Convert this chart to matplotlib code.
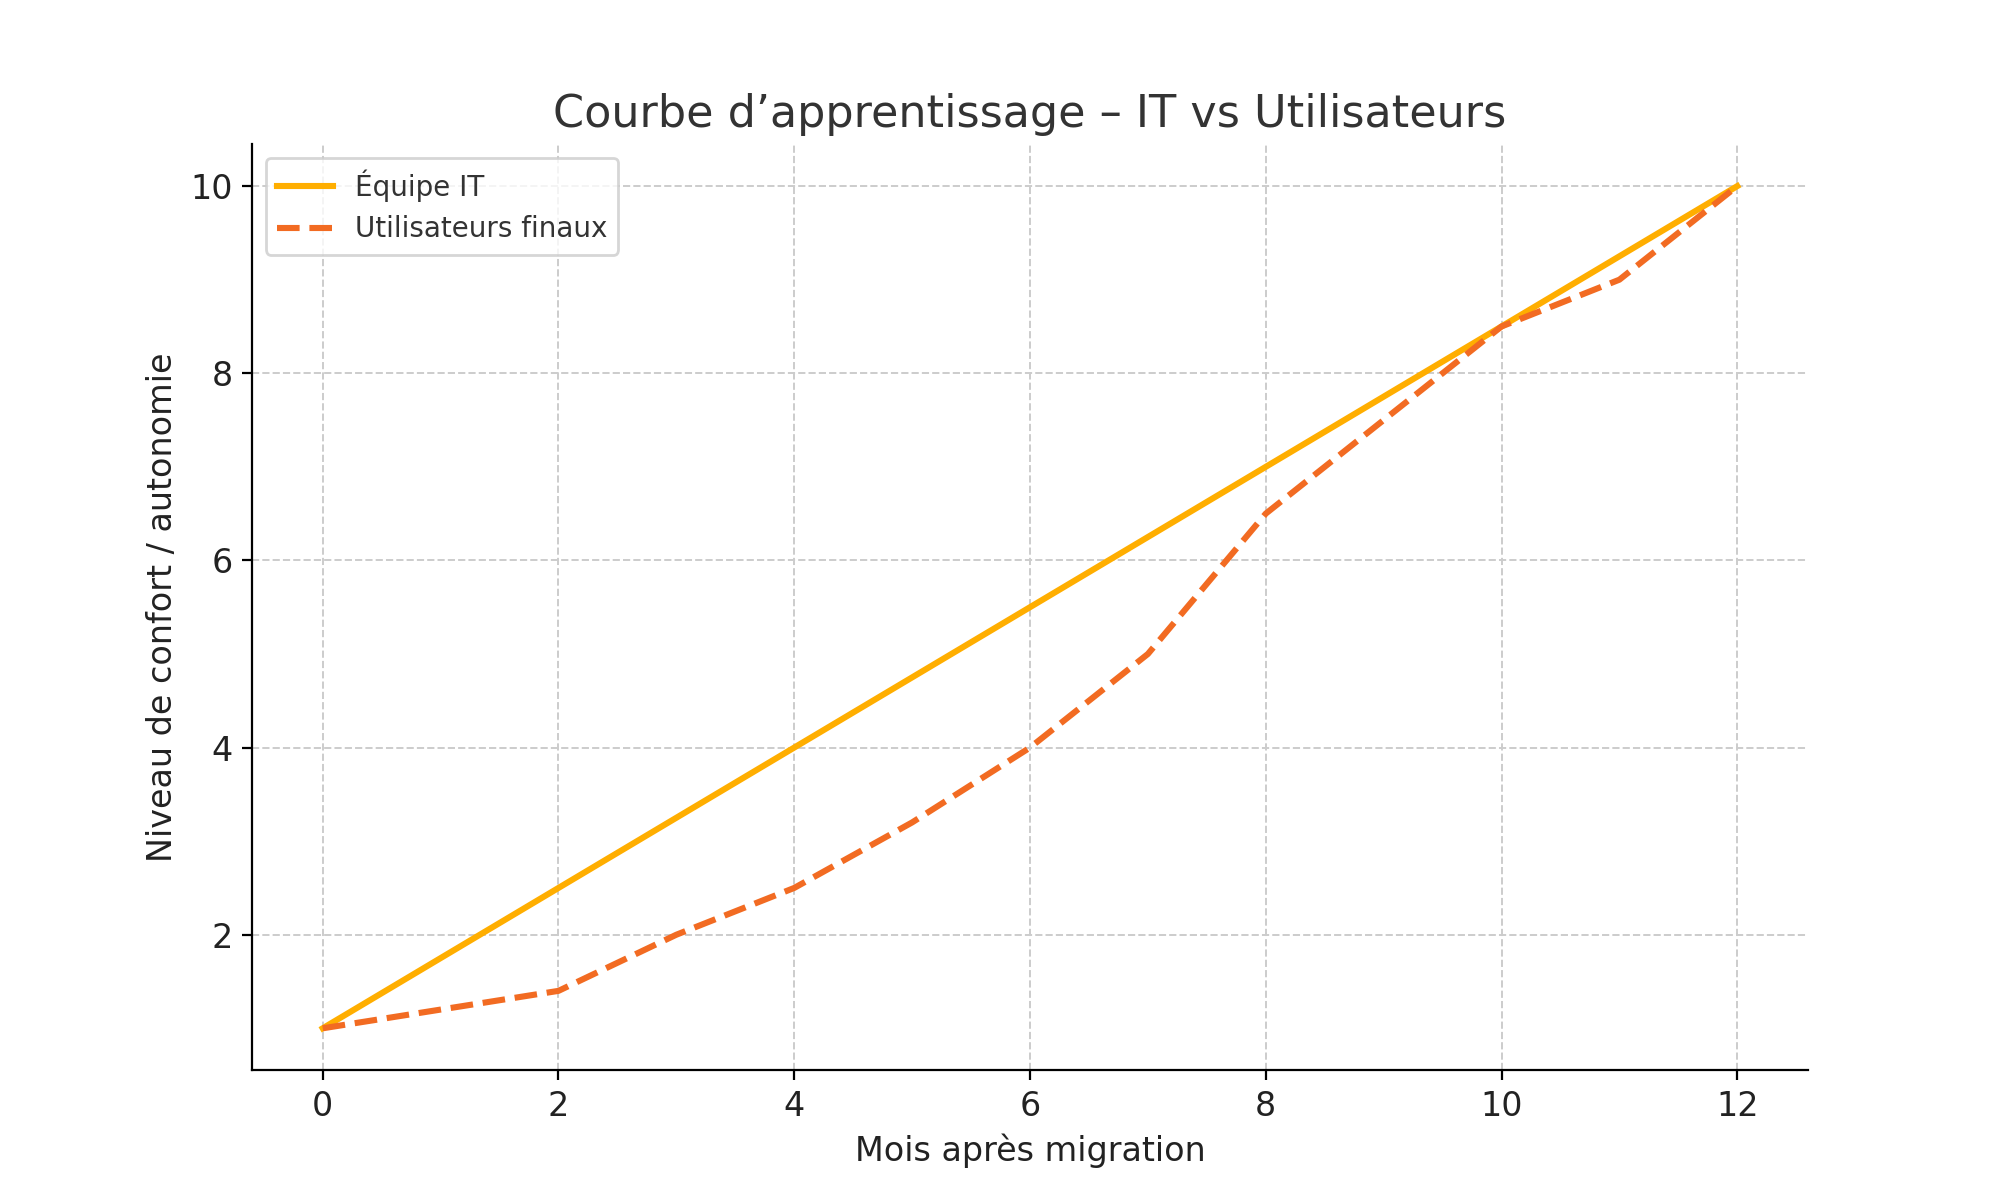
import matplotlib
matplotlib.use("Agg")
from matplotlib import pyplot as plt

mois = [0, 1, 2, 3, 4, 5, 6, 7, 8, 9, 10, 11, 12]
equipe_it = [1.0, 1.75, 2.5, 3.25, 4.0, 4.75, 5.5, 6.25, 7.0, 7.75, 8.5, 9.25, 10.0]
utilisateurs = [1.0, 1.2, 1.4, 2.0, 2.5, 3.2, 4.0, 5.0, 6.5, 7.5, 8.5, 9.0, 10.0]

fig = plt.figure(figsize=(10, 6), dpi=200)
ax = fig.add_axes([0.126, 0.108, 0.778, 0.772])

ax.plot(mois, equipe_it, color="#FFAE00", lw=2.2, label="Équipe IT")
ax.plot(mois, utilisateurs, color="#F26B22", lw=2.2, ls="--", label="Utilisateurs finaux")

ax.set_title("Courbe d\u2019apprentissage \u2013 IT vs Utilisateurs", fontsize=16, color="#333333")
ax.set_xlabel("Mois après migration", fontsize=12, color="#222222")
ax.set_ylabel("Niveau de confort / autonomie", fontsize=12, color="#222222")
ax.set_xticks(range(0, 13, 2))
ax.set_yticks(range(2, 11, 2))
ax.tick_params(labelsize=12, labelcolor="#222222")
ax.grid(True, ls="--", color="#cccccc", lw=0.7)
ax.spines["top"].set_visible(False)
ax.spines["right"].set_visible(False)
leg = ax.legend(loc="upper left", fontsize=10, labelcolor="#333333")

fig.savefig("out.png")
